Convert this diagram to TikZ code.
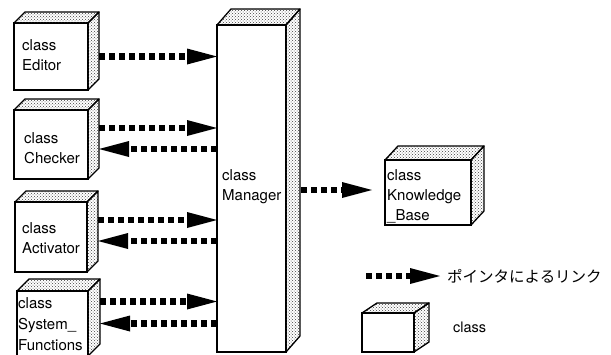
\documentclass[tikz,border=0pt]{standalone}
\usepackage{fontspec}
\setmainfont{TeX Gyre Heros}
\newfontfamily\jpfont{Noto Sans CJK JP}
\usetikzlibrary{arrows.meta,patterns,fit}

\tikzset{
  boxfront/.style={draw, line width=1.3pt, inner sep=0pt, outer sep=0pt, fill=white},
  boxface/.style={draw, line width=1.3pt, line join=round, pattern=crosshatch dots, pattern color=black!75},
  classtext/.style={anchor=north west, align=left, inner sep=0pt, font=\fontsize{15}{20}\selectfont},
  link/.style={line width=6.5pt, dash pattern=on 6pt off 4pt,
    -{Triangle[length=30pt,width=16pt,line width=0pt]}},
}

% a class drawn as a box: front face node #1 from (#2,#3) to (#4,#5),
% with a stippled top and side of depth (#6,#7)
\newcommand\classbox[7]{%
  \node[boxfront, fit={(#2,#3)(#4,#5)}] (#1) {};
  \draw[boxface] (#1.north west) -- ++(#6,-#7) -- ([shift={(#6,-#7)}]#1.north east)
    -- (#1.north east) -- cycle;
  \draw[boxface] (#1.north east) -- ++(#6,-#7) -- ([shift={(#6,-#7)}]#1.south east)
    -- (#1.south east) -- cycle;
}

\begin{document}
\begin{tikzpicture}[x=1pt, y=-1pt]
\useasboundingbox (0,0) rectangle (611,354);

% classes
\classbox{editor}{14}{23}{88}{90}{11}{11}
\classbox{checker}{14}{110}{88}{179}{11}{11}
\classbox{activator}{15}{202}{87}{272}{11}{11}
\classbox{sysfunc}{17}{291}{88}{356}{12}{12}
\classbox{manager}{217}{25}{286}{352}{14}{16}
\classbox{kbase}{385}{160}{471}{225}{13}{14}
\classbox{legendbox}{362}{313}{414}{352}{15}{10}

% class names
\node[classtext] (editortxt) at (22,39) {class\\Editor};
\node[classtext] (checkertxt) at (24,132) {class\\Checker};
\node[classtext] (activatortxt) at (22,222) {class\\Activator};
\node[classtext, font=\fontsize{15}{21}\selectfont] (sysfunctxt) at (18,297) {class\\System\_\\Functions};
\node[classtext] (managertxt) at (222,169) {class\\Manager};
\node[classtext] (kbasetxt) at (387,169) {class\\Knowledge\\\_Base};

% pointer links
\draw[link] ([xshift=11pt]editor.east) -- (editor.east -| manager.west);
\draw[link] ([xshift=11pt,yshift=16.5pt]checker.east) -- ([yshift=16.5pt]checker.east -| manager.west);
\draw[link] ([yshift=-4.5pt]checker.east -| manager.west) -- ([xshift=11pt,yshift=-4.5pt]checker.east);
\draw[link] ([xshift=11pt,yshift=17pt]activator.east) -- ([yshift=17pt]activator.east -| manager.west);
\draw[link] ([yshift=-4pt]activator.east -| manager.west) -- ([xshift=11pt,yshift=-4pt]activator.east);
\draw[link] ([xshift=12pt,yshift=22pt]sysfunc.east) -- ([yshift=22pt]sysfunc.east -| manager.west);
\draw[link] ([yshift=0pt]sysfunc.east -| manager.west) -- ([xshift=12pt]sysfunc.east);
\draw[link, shorten >=13pt] ([xshift=15pt,yshift=-1.5pt]manager.east) -- ([yshift=-1.5pt]manager.east -| kbase.west);

% legend
\coordinate (legstart) at (366,276);
\coordinate (legend) at (440,276);
\draw[link] (legstart) -- (legend);
\node[anchor=west, inner sep=0pt, font=\jpfont\fontsize{15.5}{18}\selectfont] (legendlink) at (447,276) {ポインタによるリンク};
\node[anchor=base west, inner sep=0pt, font=\fontsize{14.5}{16}\selectfont] (legendclass) at (453,332) {class};
\end{tikzpicture}
\end{document}
